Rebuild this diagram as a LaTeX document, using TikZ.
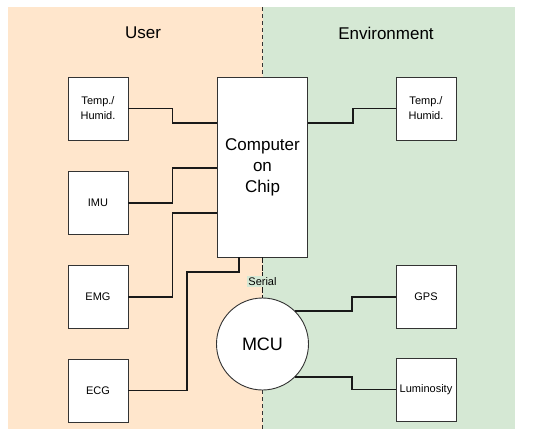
\documentclass[tikz,border=0pt]{standalone}
\usepackage{fontspec}
\setmainfont{Liberation Sans}
\usetikzlibrary{calc}
\definecolor{userbg}{HTML}{FFE6CC}
\definecolor{envbg}{HTML}{D5E8D4}
\definecolor{boxline}{HTML}{333333}
\tikzset{
  sensor/.style={draw=boxline, line width=0.9pt, fill=white, minimum width=60pt, minimum height=63pt, inner sep=0pt, align=center, font=\fontsize{11}{15}\selectfont},
  cocbox/.style={draw=boxline, line width=0.9pt, fill=white, minimum width=90pt, minimum height=180pt, inner sep=0pt, align=center, font=\fontsize{17}{21}\selectfont},
  mcubox/.style={draw=boxline, line width=0.9pt, fill=white, circle, minimum size=92pt, inner sep=0pt, font=\fontsize{18}{21}\selectfont},
  wire/.style={draw=black!90, line width=1.9pt},
  divider/.style={draw=black!80, line width=1.6pt, dash pattern=on 4pt off 3pt},
  serialline/.style={draw=black!90, line width=1.9pt, dash pattern=on 6pt off 1.5pt},
  heading/.style={font=\fontsize{17}{20}\selectfont},
  seriallabel/.style={fill=envbg, inner sep=1pt, font=\fontsize{11}{13}\selectfont}
}
\begin{document}
\begin{tikzpicture}[x=1pt, y=-1pt]
\useasboundingbox (0,0) rectangle (550,437);
\fill[userbg] (8,7) rectangle (262.5,429);
\fill[envbg] (262.5,7) rectangle (515,429);

\node[heading] (huser) at (143,33) {User};
\node[heading] (henv) at (386,33) {Environment};

\node[sensor] (ltemp) at (98,108.5) {Temp./\\Humid.};
\node[sensor] (limu) at (98,203) {IMU};
\node[sensor] (lemg) at (98,297) {EMG};
\node[sensor] (lecg) at (98,390.5) {ECG};

\node[sensor] (rtemp) at (426,108.5) {Temp./\\Humid.};
\node[sensor] (gps) at (426,297) {GPS};
\node[sensor] (lum) at (426,389.5) {Luminosity};

\node[cocbox] (coc) at (262.5,167) {Computer\\on\\Chip};
\node[mcubox] (mcu) at (262.5,344) {MCU};

\coordinate (divtop) at (262.5,7);
\coordinate (divbot) at (262.5,429);
\draw[divider] (divtop) -- (coc.north);
\draw[divider] (mcu.south) -- (divbot);

\draw[wire] (ltemp.east) -- ++(44,0) |- ($(coc.north west)+(0,46)$);
\draw[wire] (limu.east) -- ++(44,0) |- ($(coc.north west)+(0,91)$);
\draw[wire] (lemg.east) -- ++(44,0) |- ($(coc.north west)+(0,136)$);
\coordinate (ecgbend) at (187,272);
\draw[wire] (lecg.east) -| (ecgbend) -| ($(coc.south west)+(22,0)$);

\draw[wire] ($(coc.north east)+(0,46)$) -- ++(45,0) |- (rtemp.west);
\draw[wire] (mcu.45) -- ++(57,0) |- (gps.west);
\draw[wire] (mcu.-45) -- ++(57,0) |- (lum.west);

\draw[serialline] (coc.south) -- (mcu.north) node[seriallabel, pos=0.6] {Serial};
\end{tikzpicture}
\end{document}
